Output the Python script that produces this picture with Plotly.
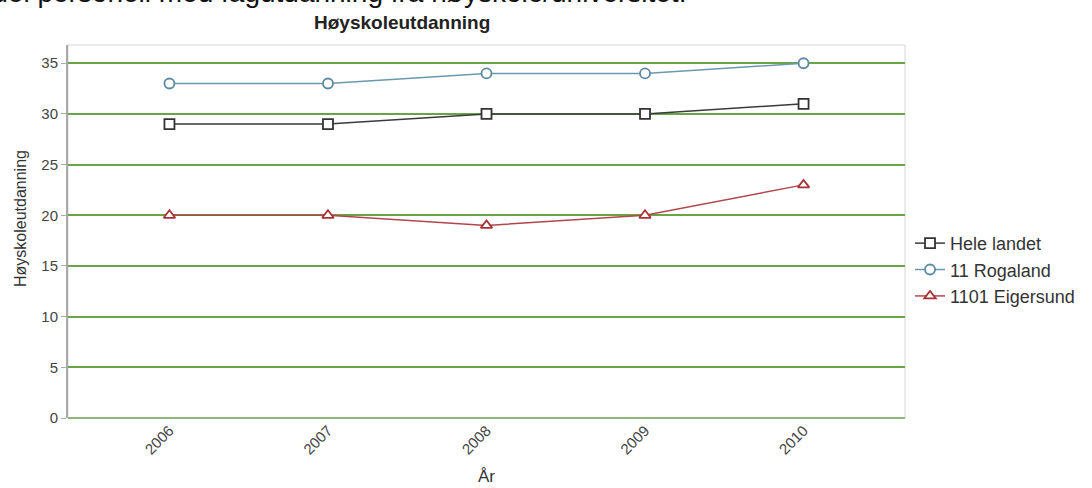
import plotly.graph_objects as go

years = ["2006", "2007", "2008", "2009", "2010"]
hele_landet = [29, 29, 30, 30, 31]
rogaland = [33, 33, 34, 34, 35]
eigersund = [20, 20, 19, 20, 23]
y_ticks = [0, 5, 10, 15, 20, 25, 30, 35]

series = [
    ("Hele landet", hele_landet, "#3a3a3a", "#333333", "square"),
    ("11 Rogaland", rogaland, "#6a98ae", "#5b8ba2", "circle"),
    ("1101 Eigersund", eigersund, "#b2474b", "#a83236", "triangle-up"),
]

fig = go.Figure()
for i, (name, vals, lc, mc, sym) in enumerate(series):
    fig.add_trace(go.Scatter(
        x=years, y=vals, name=name, mode="lines+markers",
        legendgroup=f"g{i}",
        line=dict(color=lc, width=1.5),
        marker=dict(symbol=sym, size=10, color="white",
                    line=dict(color=mc, width=1.8)),
    ))

fig.update_layout(
    width=1092, height=488,
    margin=dict(l=68, r=187, t=45, b=70, autoexpand=False),
    paper_bgcolor="white", plot_bgcolor="white",
    font=dict(family="Liberation Sans, Arial, sans-serif", color="#444444"),
    showlegend=True,
    legend=dict(x=1.006, y=0.397, xanchor="left", yanchor="middle",
                font=dict(size=18, color="#333333"), itemwidth=30,
                tracegroupgap=0, bgcolor="rgba(0,0,0,0)"),
    xaxis=dict(type="category", range=[-0.64, 4.64], tickangle=-45, automargin=False,
               tickfont=dict(size=15, color="#444444"), showgrid=False,
               showline=False, ticks=""),
    yaxis=dict(range=[0, 36.8], tickvals=y_ticks, tickfont=dict(size=15, color="#444444"),
               automargin=False,
               showgrid=True, gridcolor="#67a548", gridwidth=2,
               zeroline=True, zerolinecolor="#8fb580", zerolinewidth=2,
               showline=True, linecolor="#aaaaaa", linewidth=2,
               ticks="outside", ticklen=5, tickcolor="#aaaaaa"),
    shapes=[dict(type="rect", xref="paper", yref="paper", x0=0, x1=1, y0=0, y1=1,
                 line=dict(color="#d6d6d6", width=1), layer="below")],
    annotations=[
        dict(text="<b>Høyskoleutdanning</b>", xref="paper", yref="paper",
             x=0.399, y=1.059, xanchor="center", yanchor="middle", showarrow=False,
             font=dict(size=19, color="#222222")),
        dict(text="Høyskoleutdanning", xref="paper", yref="paper",
             x=-0.0573, y=0.5335, xanchor="center", yanchor="middle", showarrow=False,
             textangle=-90, font=dict(size=16, color="#333333")),
        dict(text="År", xref="paper", yref="paper",
             x=0.5, y=-0.1555, xanchor="center", yanchor="middle", showarrow=False,
             font=dict(size=17, color="#333333")),
        dict(text="Andel personell med fagutdanning fra høyskole/universitet.",
             xref="paper", yref="paper", x=-0.134, y=1.0945, xanchor="left", yanchor="bottom",
             showarrow=False, font=dict(size=28, color="#111111")),
    ],
)

fig.write_html("out.html", config={"displayModeBar": False},
               post_script="document.body.style.margin='0';document.body.style.overflow='hidden';")
